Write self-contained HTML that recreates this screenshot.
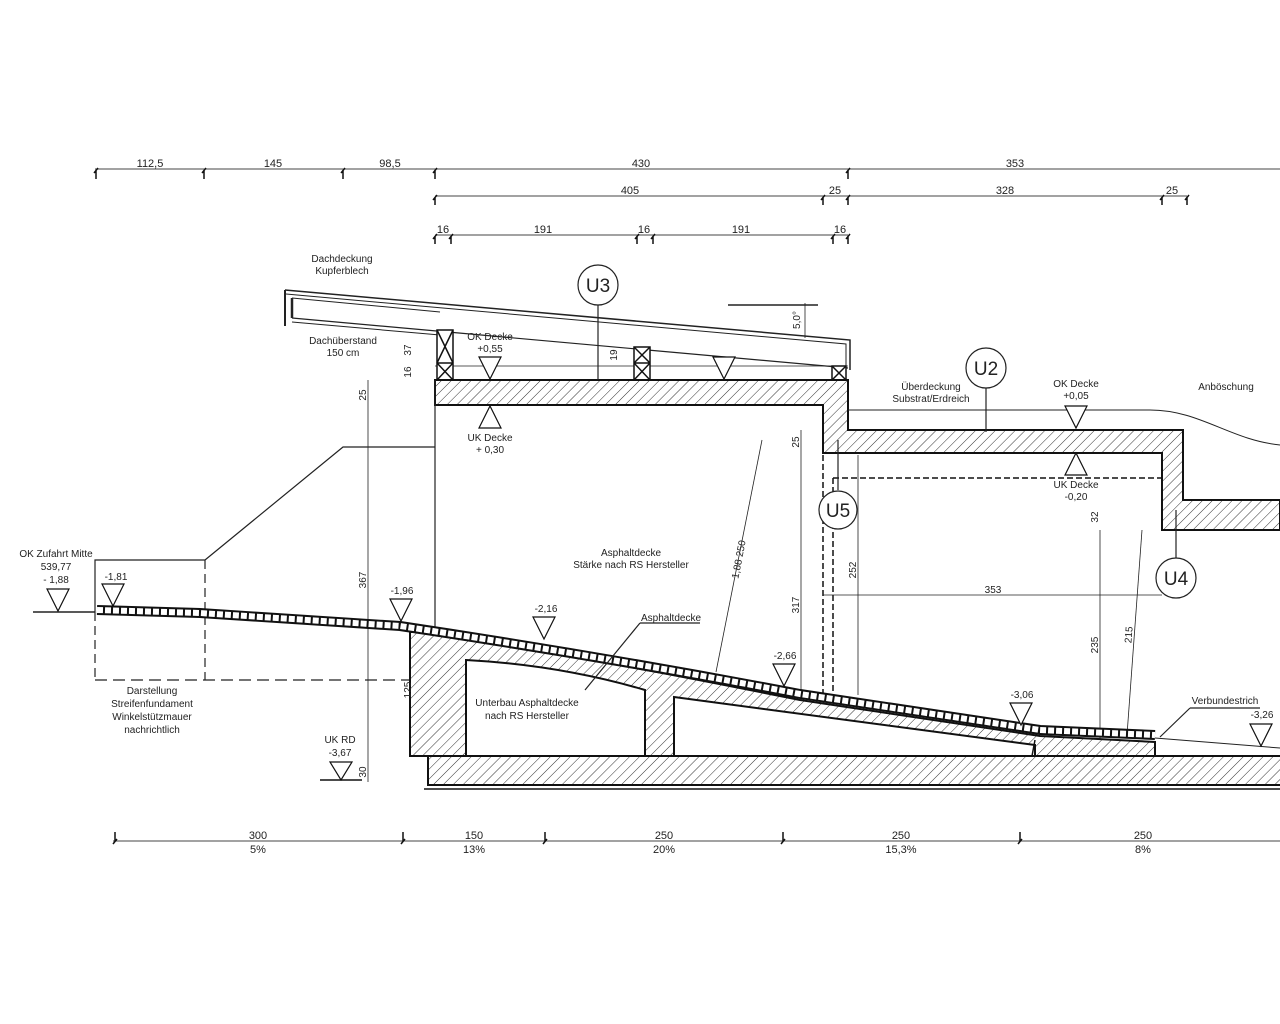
<!DOCTYPE html>
<html><head><meta charset="utf-8"><style>
html,body{margin:0;padding:0;background:#fff}
svg{display:block}
text{font-family:"Liberation Sans",sans-serif;fill:#222}
</style></head><body>
<svg width="1280" height="1024" viewBox="0 0 1280 1024" xmlns="http://www.w3.org/2000/svg">
<defs>
<pattern id="h" patternUnits="userSpaceOnUse" width="7" height="7" patternTransform="rotate(45)">
<rect width="7" height="7" fill="#fff"/><line x1="0" y1="0" x2="0" y2="7" stroke="#333" stroke-width="1"/>
</pattern>
</defs>
<rect width="1280" height="1024" fill="#fff"/>
<g stroke="#444" stroke-width="1" fill="none">
<!-- top dims -->
<line x1="95" y1="169" x2="1280" y2="169"/>
<line x1="435" y1="196" x2="1187" y2="196"/>
<line x1="435" y1="235" x2="848" y2="235"/>
<g stroke="#111" stroke-width="1.5">
<path d="M96,170v9 M94,173l4,-5 M204,170v9 M202,173l4,-5 M343,170v9 M341,173l4,-5 M435,170v9 M433,173l4,-5 M848,170v9 M846,173l4,-5"/>
<path d="M435,197v8 M433,200l4,-5 M823,197v8 M821,200l4,-5 M848,197v8 M846,200l4,-5 M1162,197v8 M1160,200l4,-5 M1187,197v8 M1185,200l4,-5"/>
<path d="M435,236v8 M433,239l4,-5 M451,236v8 M449,239l4,-5 M637,236v8 M635,239l4,-5 M653,236v8 M651,239l4,-5 M833,236v8 M831,239l4,-5 M848,236v8 M846,239l4,-5"/>
</g>
<!-- bottom dim -->
<line x1="113" y1="841" x2="1280" y2="841"/>
<g stroke="#111" stroke-width="1.5">
<path d="M115,832v9 M113,844l4,-5 M403,832v9 M401,844l4,-5 M545,832v9 M543,844l4,-5 M783,832v9 M781,844l4,-5 M1020,832v9 M1018,844l4,-5"/>
</g>
</g>
<g font-size="11" text-anchor="middle">
<text x="150" y="167">112,5</text><text x="273" y="167">145</text><text x="390" y="167">98,5</text>
<text x="641" y="167">430</text><text x="1015" y="167">353</text>
<text x="630" y="194">405</text><text x="835" y="194">25</text><text x="1005" y="194">328</text><text x="1172" y="194">25</text>
<text x="443" y="233">16</text><text x="543" y="233">191</text><text x="644" y="233">16</text><text x="741" y="233">191</text><text x="840" y="233">16</text>
<text x="258" y="839">300</text><text x="258" y="853">5%</text>
<text x="474" y="839">150</text><text x="474" y="853">13%</text>
<text x="664" y="839">250</text><text x="664" y="853">20%</text>
<text x="901" y="839">250</text><text x="901" y="853">15,3%</text>
<text x="1143" y="839">250</text><text x="1143" y="853">8%</text>
</g>

<!-- roof -->
<g stroke="#222" fill="none">
<path d="M285,290 L850,340 L850,370" stroke-width="1.5"/>
<path d="M286,294 L846,344 L846,370" stroke-width="1"/>
<path d="M285,290 V326" stroke-width="2"/>
<path d="M292,298 V318" stroke-width="2.5"/>
<path d="M292,298 L440,312" stroke-width="1"/>
<path d="M292,318 L848,368" stroke-width="1.2"/>
<path d="M292,322 L440,335" stroke-width="1"/>
<line x1="435" y1="366" x2="848" y2="366" stroke-width="0.8"/>
<line x1="728" y1="305" x2="818" y2="305" stroke-width="1.5"/>
<line x1="805" y1="303" x2="805" y2="338" stroke-width="0.8"/>
</g>
<!-- posts -->
<g stroke="#111" stroke-width="1.5" fill="#fff">
<rect x="437" y="330" width="16" height="50"/><path d="M437,330 L453,363 M453,330 L437,363 M437,363 H453 M437,363 L453,380 M453,363 L437,380" fill="none"/>
<rect x="634" y="347" width="16" height="33"/><path d="M634,347 L650,363 M650,347 L634,363 M634,363 H650 M634,363 L650,380 M650,363 L634,380" fill="none"/>
<rect x="832" y="366" width="14" height="14"/><path d="M832,366 L846,380 M846,366 L832,380" fill="none"/>
</g>
<!-- main slab hatched -->
<path d="M435,380 H848 V430 H1183 V500 H1280 V530 H1162 V453 H823 V405 H435 Z" fill="url(#h)" stroke="#111" stroke-width="2"/>
<!-- earth line -->
<path d="M848,410 H1150 C1200,410 1230,440 1280,445" fill="none" stroke="#222" stroke-width="1"/>
<!-- dashed -->
<g stroke="#111" stroke-width="1.5" stroke-dasharray="6,3" fill="none">
<path d="M823,455 V695 M833,478 V695 M833,478 H1162"/>
</g>
<!-- left structure -->
<g stroke="#222" stroke-width="1.2" fill="none">
<line x1="435" y1="380" x2="435" y2="632"/>
<path d="M435,447 H343 L205,560 H95 V612"/>
<line x1="205" y1="560" x2="205" y2="680" stroke-dasharray="9,5"/>
<line x1="95" y1="612" x2="95" y2="680" stroke-dasharray="9,5"/>
<line x1="95" y1="680" x2="435" y2="680" stroke-dasharray="12,6"/>
<line x1="33" y1="612" x2="95" y2="612" stroke-width="1.5"/>
<!-- verticals -->
<line x1="368" y1="380" x2="368" y2="782" stroke-width="0.8"/>
<line x1="413" y1="632" x2="413" y2="755" stroke-width="0.8"/>
<line x1="801" y1="430" x2="801" y2="755" stroke-width="0.8"/>
<line x1="858" y1="455" x2="858" y2="695" stroke-width="0.8"/>
<line x1="1100" y1="530" x2="1100" y2="755" stroke-width="0.8"/>
<line x1="1142" y1="530" x2="1127" y2="735" stroke-width="0.8"/>
<line x1="823" y1="595" x2="1162" y2="595" stroke-width="0.8"/>
<line x1="762" y1="440" x2="716" y2="672" stroke-width="0.8"/>
</g>
<!-- under ramp structure -->
<path d="M410,632 L435,632 Q600,660 800,700 L1040,736 L1155,742 V756 H410 Z" fill="url(#h)" stroke="#111" stroke-width="2"/>
<path d="M466,660 Q560,665 645,690 V756 H466 Z" fill="#fff" stroke="#111" stroke-width="2"/>
<path d="M674,697 L1035,745 V756 H674 Z" fill="#fff" stroke="#111" stroke-width="2"/>
<line x1="1035" y1="740" x2="1032" y2="756" stroke="#111" stroke-width="1.5"/>
<!-- base slab -->
<rect x="428" y="756" width="860" height="29" fill="url(#h)" stroke="#111" stroke-width="2"/>
<line x1="424" y1="789" x2="1280" y2="789" stroke="#111" stroke-width="1.5"/>
<line x1="1155" y1="738" x2="1280" y2="748" stroke="#222" stroke-width="1"/>
<!-- asphalt ramp -->
<path d="M97,610 L200,613 L400,626 Q600,656 800,694 L1040,730 L1155,735" fill="none" stroke="#111" stroke-width="10"/>
<path d="M97,610 L200,613 L400,626 Q600,656 800,694 L1040,730 L1155,735" fill="none" stroke="#fff" stroke-width="6" stroke-dasharray="6,2"/>

<!-- level triangles -->
<g fill="#fff" stroke="#111" stroke-width="1.2">
<path d="M47,589 H69 L58,611 Z"/>
<path d="M102,584 H124 L113,606 Z"/>
<path d="M390,599 H412 L401,621 Z"/>
<path d="M533,617 H555 L544,639 Z"/>
<path d="M773,664 H795 L784,686 Z"/>
<path d="M1010,703 H1032 L1021,725 Z"/>
<path d="M1250,724 H1272 L1261,746 Z"/>
<path d="M479,357 H501 L490,379 Z"/>
<path d="M713,357 H735 L724,379 Z"/>
<path d="M1065,406 H1087 L1076,428 Z"/>
<path d="M479,428 H501 L490,406 Z"/>
<path d="M1065,475 H1087 L1076,453 Z"/>
<path d="M330,762 H352 L341,780 Z"/>
</g>
<line x1="320" y1="780" x2="362" y2="780" stroke="#111" stroke-width="1.5"/>

<!-- circles -->
<g fill="#fff" stroke="#222" stroke-width="1.2">
<line x1="598" y1="305" x2="598" y2="380"/>
<line x1="986" y1="388" x2="986" y2="432"/>
<line x1="838" y1="490" x2="838" y2="440"/>
<line x1="1176" y1="558" x2="1176" y2="510"/>
<line x1="640" y1="623" x2="700" y2="623"/>
<line x1="640" y1="623" x2="585" y2="690"/>
<line x1="1190" y1="708" x2="1260" y2="708"/>
<line x1="1190" y1="708" x2="1160" y2="737"/>
<circle cx="598" cy="285" r="20"/>
<circle cx="986" cy="368" r="20"/>
<circle cx="838" cy="510" r="19"/>
<circle cx="1176" cy="578" r="20"/>
</g>
<g font-size="19" text-anchor="middle">
<text x="598" y="292">U3</text><text x="986" y="375">U2</text><text x="838" y="517">U5</text><text x="1176" y="585">U4</text>
</g>

<!-- labels -->
<g font-size="10" text-anchor="middle">
<text x="342" y="262">Dachdeckung</text><text x="342" y="274">Kupferblech</text>
<text x="343" y="344">Dachüberstand</text><text x="343" y="356">150 cm</text>
<text x="490" y="340">OK Decke</text><text x="490" y="352">+0,55</text>
<text x="490" y="441">UK Decke</text><text x="490" y="453">+ 0,30</text>
<text x="931" y="390">Überdeckung</text><text x="931" y="402">Substrat/Erdreich</text>
<text x="1076" y="387">OK Decke</text><text x="1076" y="399">+0,05</text>
<text x="1226" y="390">Anböschung</text>
<text x="1076" y="488">UK Decke</text><text x="1076" y="500">-0,20</text>
<text x="56" y="557">OK Zufahrt Mitte</text><text x="56" y="570">539,77</text><text x="56" y="583">- 1,88</text>
<text x="116" y="580">-1,81</text>
<text x="402" y="594">-1,96</text>
<text x="546" y="612">-2,16</text>
<text x="785" y="659">-2,66</text>
<text x="1022" y="698">-3,06</text>
<text x="1262" y="718">-3,26</text>
<text x="340" y="743">UK RD</text><text x="340" y="756">-3,67</text>
<text x="631" y="556">Asphaltdecke</text><text x="631" y="568">Stärke nach RS Hersteller</text>
<text x="671" y="621">Asphaltdecke</text>
<text x="527" y="706">Unterbau Asphaltdecke</text><text x="527" y="719">nach RS Hersteller</text>
<text x="152" y="694">Darstellung</text><text x="152" y="707">Streifenfundament</text><text x="152" y="720">Winkelstützmauer</text><text x="152" y="733">nachrichtlich</text>
<text x="1225" y="704">Verbundestrich</text>
</g>
<g font-size="10" text-anchor="middle">
<text transform="translate(366,395) rotate(-90)">25</text>
<text transform="translate(366,580) rotate(-90)">367</text>
<text transform="translate(411,690) rotate(-90)">125</text>
<text transform="translate(366,772) rotate(-90)">30</text>
<text transform="translate(411,350) rotate(-90)">37</text>
<text transform="translate(411,372) rotate(-90)">16</text>
<text transform="translate(617,355) rotate(-90)">19</text>
<text transform="translate(800,320) rotate(-90)">5,0°</text>
<text transform="translate(799,442) rotate(-90)">25</text>
<text transform="translate(799,605) rotate(-90)">317</text>
<text transform="translate(856,570) rotate(-90)">252</text>
<text transform="translate(1098,517) rotate(-90)">32</text>
<text transform="translate(1098,645) rotate(-90)">235</text>
<text transform="translate(1132,635) rotate(-86)">215</text>
<text transform="translate(742,560) rotate(-79)">1,88  250</text>
<text x="993" y="593">353</text>
</g>
</svg>
</body></html>
